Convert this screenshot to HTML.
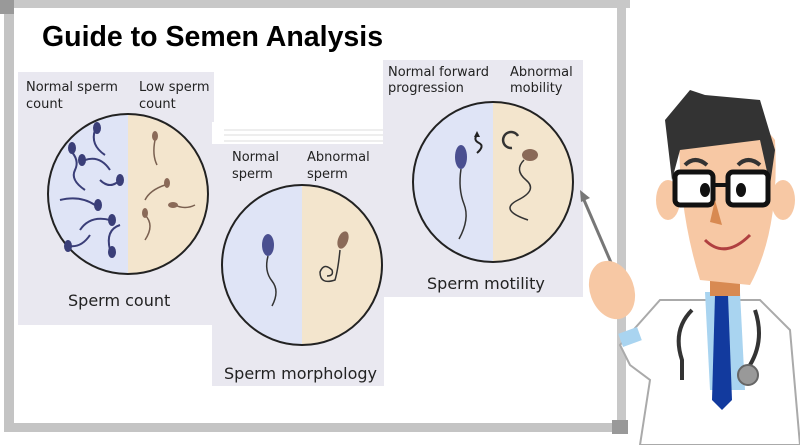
<!DOCTYPE html>
<html><head><style>
body{margin:0;width:800px;height:445px;background:#fff;overflow:hidden}
svg{display:block}
text{font-family:"DejaVu Sans","Liberation Sans",sans-serif;fill:#222}
</style></head><body>
<svg width="800" height="445" viewBox="0 0 800 445">
<rect x="0" y="0" width="630" height="8" fill="#c8c8c8"/>
<rect x="4" y="4" width="10" height="428" fill="#c4c4c4"/>
<rect x="617" y="0" width="9" height="432" fill="#c8c8c8"/>
<rect x="4" y="423" width="622" height="9" fill="#c4c4c4"/>
<rect x="0" y="0" width="14" height="14" fill="#999"/>
<rect x="612" y="420" width="16" height="14" fill="#999"/>
<text x="42" y="46" font-size="28.5" style="font-family:'Liberation Sans',sans-serif;font-weight:bold;fill:#000">Guide to Semen Analysis</text>
<rect x="18" y="72" width="196" height="253" fill="#e9e8f0"/>
<rect x="212" y="128" width="172" height="258" fill="#e9e8f0"/>
<rect x="212" y="122" width="172" height="22" fill="#fff"/>
<line x1="224" y1="130" x2="383" y2="130" stroke="#ddd"/>
<line x1="224" y1="135" x2="383" y2="135" stroke="#ddd"/>
<line x1="224" y1="141" x2="383" y2="141" stroke="#ddd"/>
<rect x="383" y="60" width="200" height="237" fill="#e9e8f0"/>
<defs>
<clipPath id="c1"><circle cx="128" cy="194" r="80"/></clipPath>
<clipPath id="c2"><circle cx="302" cy="265" r="80"/></clipPath>
<clipPath id="c3"><circle cx="493" cy="182" r="80"/></clipPath>
</defs>
<g clip-path="url(#c1)"><rect x="40" y="100" width="88" height="190" fill="#dfe4f6"/><rect x="128" y="100" width="90" height="190" fill="#f3e5cd"/></g>
<circle cx="128" cy="194" r="80" fill="none" stroke="#222" stroke-width="2"/>
<g stroke="#3a3e78" stroke-width="2" fill="none">
<path d="M70 150 q10 10 5 20 t10 20"/><path d="M95 130 q-5 15 10 25"/><path d="M60 200 q20 -5 35 5"/><path d="M80 230 q10 -15 30 -10"/><path d="M100 180 q10 10 20 0"/><path d="M65 245 q15 5 25 -10"/><path d="M110 250 q-5 -20 10 -25"/><path d="M85 160 q15 -5 25 10"/>
</g>
<g fill="#3a3e78"><ellipse cx="72" cy="148" rx="4" ry="6"/><ellipse cx="97" cy="128" rx="4" ry="6"/><ellipse cx="98" cy="205" rx="4" ry="6"/><ellipse cx="112" cy="220" rx="4" ry="6"/><ellipse cx="120" cy="180" rx="4" ry="6"/><ellipse cx="82" cy="160" rx="4" ry="6"/><ellipse cx="112" cy="252" rx="4" ry="6"/><ellipse cx="68" cy="246" rx="4" ry="6"/></g>
<g stroke="#7a6050" stroke-width="1.5" fill="none"><path d="M155 140 q-3 15 2 25"/><path d="M165 185 q-15 5 -20 15"/><path d="M175 205 q10 5 20 0"/><path d="M145 215 q10 10 0 25"/></g>
<g fill="#8a6a58"><ellipse cx="155" cy="136" rx="3" ry="5"/><ellipse cx="167" cy="183" rx="3" ry="5"/><ellipse cx="173" cy="205" rx="5" ry="3"/><ellipse cx="145" cy="213" rx="3" ry="5"/></g>
<text x="26" y="91" font-size="13">Normal sperm</text><text x="26" y="108" font-size="13">count</text>
<text x="139" y="91" font-size="13">Low sperm</text><text x="139" y="108" font-size="13">count</text>
<text x="68" y="306" font-size="16">Sperm count</text>
<g clip-path="url(#c2)"><rect x="220" y="180" width="82" height="170" fill="#dfe4f6"/><rect x="302" y="180" width="82" height="170" fill="#f3e5cd"/></g>
<circle cx="302" cy="265" r="80" fill="none" stroke="#222" stroke-width="2"/>
<ellipse cx="268" cy="245" rx="6" ry="11" fill="#4a4f90"/>
<path d="M268 256 q-4 15 4 25 t0 25" stroke="#333" stroke-width="1.5" fill="none"/>
<ellipse cx="343" cy="240" rx="5" ry="9" fill="#8a6a58" transform="rotate(20 343 240)"/>
<path d="M340 250 q-2 20 -5 30 q-15 5 -15 -8 q4 -10 12 -2 q2 6 -5 6" stroke="#333" stroke-width="1.5" fill="none"/>
<text x="232" y="161" font-size="13">Normal</text><text x="232" y="178" font-size="13">sperm</text>
<text x="307" y="161" font-size="13">Abnormal</text><text x="307" y="178" font-size="13">sperm</text>
<text x="224" y="379" font-size="16">Sperm morphology</text>
<g clip-path="url(#c3)"><rect x="410" y="100" width="83" height="170" fill="#dfe4f6"/><rect x="493" y="100" width="83" height="170" fill="#f3e5cd"/></g>
<circle cx="493" cy="182" r="80" fill="none" stroke="#222" stroke-width="2"/>
<ellipse cx="461" cy="157" rx="6" ry="12" fill="#4a4f90"/>
<path d="M461 169 q-3 20 3 35 t-5 35" stroke="#333" stroke-width="1.5" fill="none"/>
<path d="M477 135 q-4 5 2 8 t-2 10" stroke="#222" stroke-width="2" fill="none"/><path d="M474 137 l3 -6 l3 6z" fill="#222"/>
<path d="M512 148 a8 8 0 1 1 6 -12" stroke="#333" stroke-width="2.5" fill="none"/>
<ellipse cx="530" cy="155" rx="8" ry="6" fill="#8a6a58"/>
<path d="M524 160 q-10 10 2 20 t-8 20 t10 20" stroke="#333" stroke-width="1.5" fill="none"/>
<text x="388" y="76" font-size="13">Normal forward</text><text x="388" y="92" font-size="13">progression</text>
<text x="510" y="76" font-size="13">Abnormal</text><text x="510" y="92" font-size="13">mobility</text>
<text x="427" y="289" font-size="16">Sperm motility</text>
<line x1="622" y1="288" x2="584" y2="200" stroke="#777" stroke-width="3"/>
<path d="M580 190 l10 8 l-9 4z" fill="#777"/>
<path d="M620 345 L660 300 L700 300 L760 300 L790 330 L800 445 L640 445 L650 380 L630 365Z" fill="#fff" stroke="#aaa" stroke-width="2"/>
<rect x="620" y="330" width="20" height="14" fill="#a9d4f0" transform="rotate(-20 630 337)"/>
<path d="M705 292 L740 292 L745 390 L710 390Z" fill="#a9d4f0"/>
<path d="M715 295 L728 295 L732 400 L722 410 L712 400Z" fill="#123a9e"/>
<rect x="710" y="280" width="30" height="16" fill="#d88a52"/>
<path d="M680 110 Q675 200 700 280 L750 285 Q780 230 775 140 Q740 95 680 110Z" fill="#f7c8a4"/>
<path d="M665 120 L690 90 L705 95 L760 100 L775 150 L770 185 L760 140 L680 150 L672 180Z" fill="#333"/>
<ellipse cx="668" cy="200" rx="12" ry="20" fill="#f7c8a4"/><ellipse cx="783" cy="200" rx="12" ry="20" fill="#f7c8a4"/>
<rect x="675" y="172" width="38" height="33" rx="5" fill="#fff" stroke="#111" stroke-width="5"/>
<rect x="728" y="172" width="40" height="33" rx="5" fill="#fff" stroke="#111" stroke-width="5"/>
<line x1="713" y1="185" x2="728" y2="185" stroke="#111" stroke-width="4"/>
<ellipse cx="705" cy="190" rx="5" ry="7" fill="#111"/><ellipse cx="741" cy="190" rx="5" ry="7" fill="#111"/>
<path d="M685 165 q10 -10 22 0 M738 165 q10 -10 22 0" stroke="#333" stroke-width="4" fill="none"/>
<path d="M715 200 L722 225 L710 222Z" fill="#d88a52"/>
<path d="M705 240 q20 20 45 -5" stroke="#b04040" stroke-width="3" fill="none"/>
<path d="M692 310 q-20 20 -10 50 l0 20 M755 310 q10 30 -5 55" stroke="#333" stroke-width="4" fill="none"/>
<circle cx="748" cy="375" r="10" fill="#999" stroke="#666" stroke-width="2"/>
<ellipse cx="612" cy="290" rx="22" ry="30" fill="#f7c8a4" transform="rotate(-20 612 290)"/>
</svg>
</body></html>
